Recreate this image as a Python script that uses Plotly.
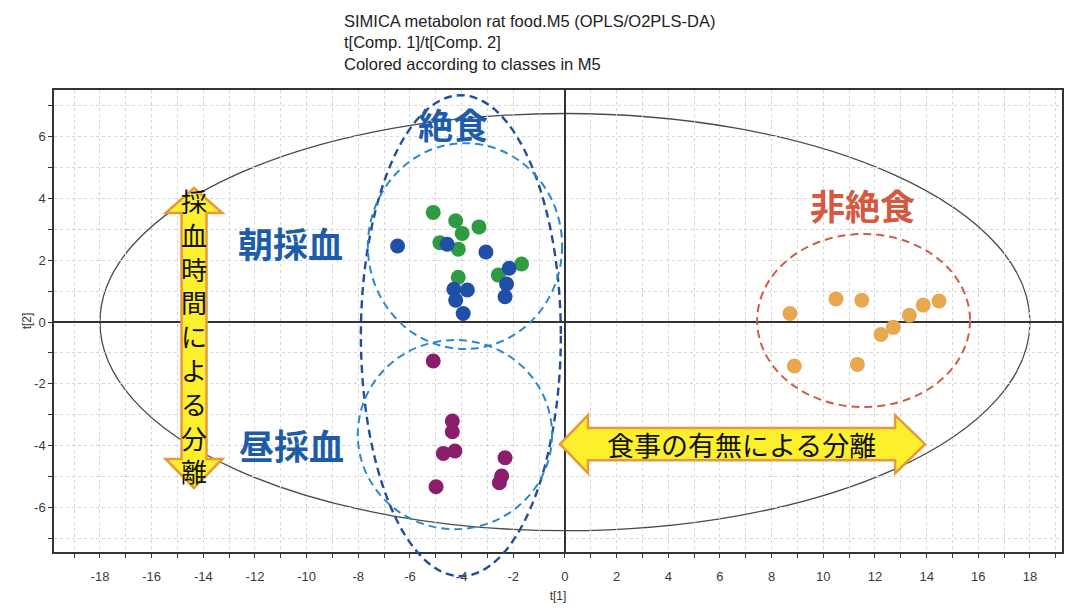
import plotly.graph_objects as go

# ---------------- data ----------------
green_x = [-5.10, -4.23, -3.33, -3.98, -4.84, -4.13, -1.68, -2.58, -4.13]
green_y = [3.55, 3.28, 3.08, 2.87, 2.57, 2.36, 1.88, 1.52, 1.45]

blue_x = [-6.48, -4.56, -3.06, -2.16, -2.26, -2.32, -4.30, -3.78, -4.23, -3.94]
blue_y = [2.46, 2.52, 2.27, 1.74, 1.23, 0.82, 1.06, 1.04, 0.71, 0.28]

purple_x = [-5.10, -4.36, -4.36, -4.71, -4.26, -2.32, -2.45, -2.54, -4.99]
purple_y = [-1.26, -3.20, -3.55, -4.25, -4.17, -4.39, -4.98, -5.20, -5.33]

orange_x = [8.71, 10.49, 11.49, 8.88, 11.32, 12.23, 12.71, 13.33, 13.87, 14.48]
orange_y = [0.28, 0.75, 0.71, -1.42, -1.37, -0.40, -0.17, 0.22, 0.55, 0.68]

x_ticks = list(range(-18, 19, 2))
x_tick_labels = [str(v) for v in x_ticks]
y_ticks = list(range(-6, 7, 2))
y_tick_labels = [str(v) for v in y_ticks]

title_lines = ["SIMICA metabolon rat food.M5 (OPLS/O2PLS-DA)",
               "t[Comp. 1]/t[Comp. 2]",
               "Colored according to classes in M5"]

# ---------------- layout constants ----------------
W, H = 1086, 612
OFF = 8  # default page body margin
ML, MR, MT, MB = 54 - OFF, 24 + OFF, 90 - OFF, 60 + OFF
XR = [-19.78, 19.24]
YR = [-7.44, 7.51]

def px(x):
    return (x - XR[0]) / (XR[1] - XR[0])

def py(y):
    return (y - YR[0]) / (YR[1] - YR[0])

fig = go.Figure()

marker_sets = [
    (green_x, green_y, "#2E9B42"),
    (blue_x, blue_y, "#1F4FA6"),
    (purple_x, purple_y, "#8A1D6C"),
    (orange_x, orange_y, "#E8A850"),
]
for xs, ys, col in marker_sets:
    fig.add_trace(go.Scatter(x=xs, y=ys, mode="markers",
                             marker=dict(size=15, color=col, line=dict(width=0)),
                             showlegend=False, hoverinfo="skip"))

shapes = []

def ellipse(cx, cy, rx, ry, color, width, dash, layer="between"):
    return dict(type="circle", xref="paper", yref="paper",
                x0=px(cx - rx), x1=px(cx + rx), y0=py(cy - ry), y1=py(cy + ry),
                line=dict(color=color, width=width, dash=dash), layer=layer)

# Hotelling T2 ellipse
shapes.append(ellipse(0, 0, 18, 6.75, "#4a4a4a", 1.3, "solid"))
# group ellipses
shapes.append(ellipse(-4.03, -0.44, 3.87, 7.78, "#1F4E9C", 2.4, "8px,5px", "above"))
shapes.append(ellipse(-3.87, 2.46, 3.76, 3.33, "#2C88CC", 2.0, "8px,5px", "above"))
shapes.append(ellipse(-4.26, -3.64, 3.76, 3.06, "#2C88CC", 2.0, "8px,5px", "above"))
shapes.append(ellipse(11.56, 0.05, 4.12, 2.80, "#D45A48", 2.0, "8px,5px", "above"))

def poly_path(pts):
    return "M " + " L ".join(f"{px(a):.5f},{py(b):.5f}" for a, b in pts) + " Z"

# vertical double arrow
vcx, vsh, vhd = -14.36, 0.484, 1.10
vtop, vtopb, vbotb, vbot = 4.34, 3.53, -4.43, -5.37
vpts = [(vcx, vtop), (vcx + vhd, vtopb), (vcx + vsh, vtopb), (vcx + vsh, vbotb),
        (vcx + vhd, vbotb), (vcx, vbot), (vcx - vhd, vbotb), (vcx - vsh, vbotb),
        (vcx - vsh, vtopb), (vcx - vhd, vtopb)]
# horizontal double arrow
hcy, hsh, hhd = -3.95, 0.52, 0.94
hl, hlb, hrb, hr = -0.19, 0.89, 12.78, 13.94
hpts = [(hl, hcy), (hlb, hcy + hhd), (hlb, hcy + hsh), (hrb, hcy + hsh),
        (hrb, hcy + hhd), (hr, hcy), (hrb, hcy - hhd), (hrb, hcy - hsh),
        (hlb, hcy - hsh), (hlb, hcy - hhd)]
for pts in (vpts, hpts):
    shapes.append(dict(type="path", xref="paper", yref="paper", path=poly_path(pts),
                       fillcolor="#FCEF2C", line=dict(color="#E59A3E", width=2.5),
                       layer="above"))

fig.update_layout(shapes=shapes)

cjk = "Noto Sans CJK JP"
annotations = [
    dict(x=-4.34, y=6.41, text="<b>絶食</b>", font=dict(family=cjk, size=35, color="#1D5CAA")),
    dict(x=11.5, y=3.82, text="<b>非絶食</b>", font=dict(family=cjk, size=35, color="#D6583F")),
    dict(x=-10.61, y=2.56, text="<b>朝採血</b>", font=dict(family=cjk, size=35, color="#1D5CAA")),
    dict(x=-10.57, y=-3.95, text="<b>昼採血</b>", font=dict(family=cjk, size=35, color="#1D5CAA")),
    dict(x=-14.36, y=-0.42, text="<br>".join("採血時間による分離"),
         font=dict(family=cjk, size=26, color="#111111")),
    dict(x=6.85, y=-3.95, text="食事の有無による分離",
         font=dict(family=cjk, size=27, color="#111111")),
]
for a in annotations:
    fig.add_annotation(xref="x", yref="y", showarrow=False,
                       xanchor="center", yanchor="middle", **a)

plot_w = W - ML - MR
plot_h = H - MT - MB
fig.add_annotation(xref="paper", yref="paper",
                   x=(342 - OFF - ML) / plot_w, y=1 + (MT - 2) / plot_h,
                   xanchor="left", yanchor="top", align="left", showarrow=False,
                   text="<br>".join(title_lines),
                   font=dict(family="Liberation Sans, Arial", size=16.5, color="#222222"))

axis_common = dict(
    showline=True, linecolor="#333333", linewidth=1.5, mirror=True,
    zeroline=True, zerolinecolor="#333333", zerolinewidth=1.5,
    showgrid=True, gridcolor="#d6d6d6", griddash="dot", gridwidth=1,
    ticks="outside", ticklen=4, tickcolor="#333333", tickwidth=1,
    tickfont=dict(family="Liberation Sans, Arial", size=13, color="#3a3a3a"),
    minor=dict(dtick=1, showgrid=True, gridcolor="#d6d6d6", griddash="dot",
               ticks="outside", ticklen=4, tickcolor="#333333"),
    automargin=False,
)

fig.update_xaxes(range=XR, tickmode="array", tickvals=x_ticks, ticktext=x_tick_labels,
                 ticklabelstandoff=8,
                 title=dict(text="t[1]", standoff=8,
                            font=dict(family="Liberation Sans, Arial", size=12, color="#333333")),
                 **axis_common)
fig.update_yaxes(range=YR, tickmode="array", tickvals=y_ticks, ticktext=y_tick_labels,
                 title=dict(text="t[2]", standoff=0,
                            font=dict(family="Liberation Sans, Arial", size=12, color="#333333")),
                 **axis_common)

fig.update_layout(width=W, height=H,
                  margin=dict(l=ML, r=MR, t=MT, b=MB),
                  paper_bgcolor="white", plot_bgcolor="white")

fig.write_html("out.html")
